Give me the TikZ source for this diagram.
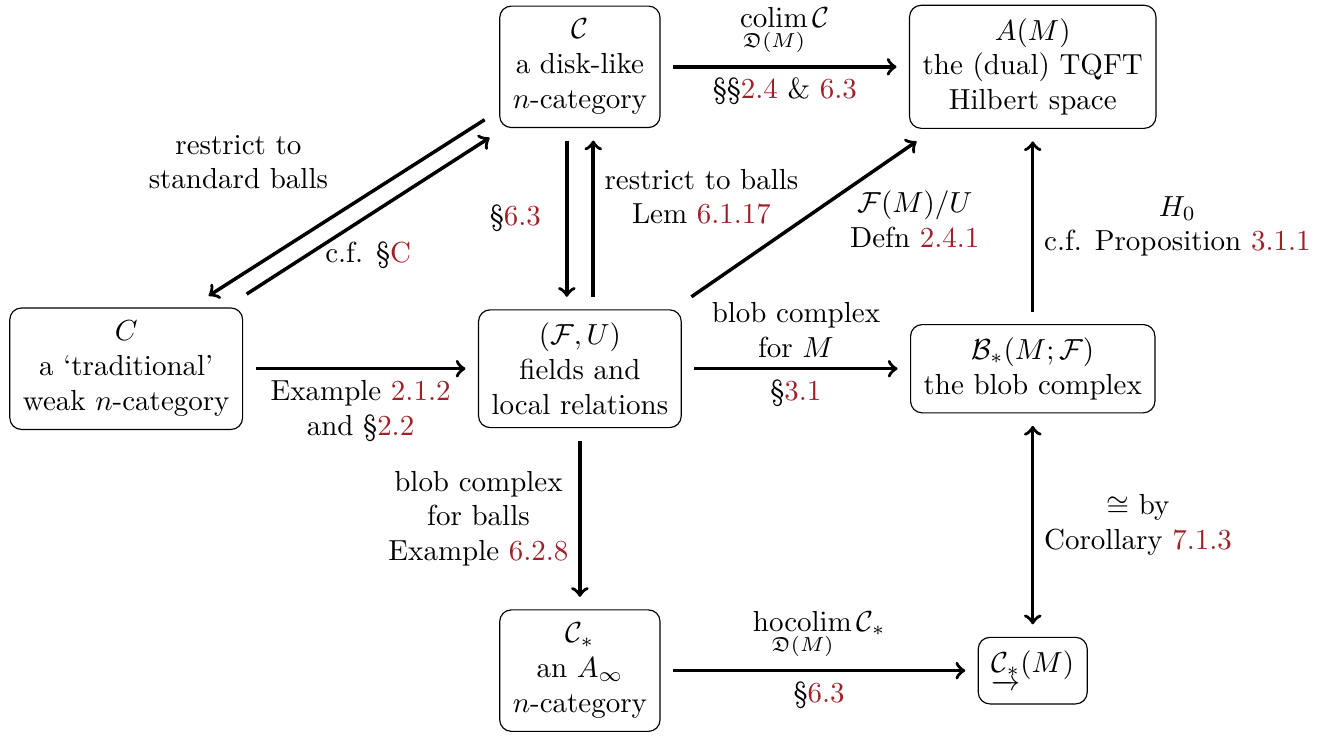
\documentclass[tikz,border=0pt]{standalone}
\usepackage{amsmath,amssymb}
\definecolor{refred}{RGB}{160,32,40}
\newcommand{\rf}[1]{\textcolor{refred}{#1}}
\tikzset{
  obj/.style={draw,rounded corners,align=center,inner sep=4.5pt,outer sep=4.5pt},
  arr/.style={->,very thick},
  lbl/.style={align=center},
}
\begin{document}
\begin{tikzpicture}
\useasboundingbox (0,0) rectangle (16.16,-8.92);
% objects
\node[obj] (cat) at (7.03,-0.81) {$\mathcal{C}$\\a disk-like\\$n$-category};
\node[obj] (am) at (12.52,-0.81) {$A(M)$\\the (dual) TQFT\\Hilbert space};
\node[obj] (trad) at (1.53,-4.47) {$C$\\a `traditional'\\weak $n$-category};
\node[obj] (fu) at (7.03,-4.47) {$(\mathcal{F},U)$\\fields and\\local relations};
\node[obj] (blob) at (12.52,-4.47) {$\mathcal{B}_*(M;\mathcal{F})$\\the blob complex};
\node[obj] (cstar) at (7.03,-8.13) {$\mathcal{C}_*$\\an $A_\infty$\\$n$-category};
\node[obj] (hoc) at (12.52,-8.13) {$\underrightarrow{\mathcal{C}_*}(M)$};
% helper points for the parallel arrows
\coordinate (dn) at ([xshift=-4.5pt]cat.south);
\coordinate (up) at ([xshift=4.6pt]cat.south);
% arrows
\draw[arr] (cat) -- node[lbl,above] (colimlbl) {$\displaystyle\operatorname*{colim}_{\mathfrak{D}(M)}\mathcal{C}$}
  node[lbl,below] (colimref) {\S\S\rf{2.4} \& \rf{6.3}} (am);
\draw[arr] ([xshift=-0.7pt,yshift=7.2pt]cat.south west) -- node[lbl,above left,xshift=-2.5pt,yshift=2.5pt] (restrlbl) {restrict to\\standard balls}
  ([xshift=-16.2pt,yshift=-0.3pt]trad.north east);
\draw[arr] ([xshift=-3.1pt,yshift=0.3pt]trad.north east) -- node[lbl,below,yshift=-5pt] (cflbl) {c.f. \S\rf{C}}
  ([xshift=1pt,yshift=1pt]cat.south west);
\draw[arr] (dn) -- node[lbl,left=5pt] (catfulbl) {\S\rf{6.3}} (dn |- fu.north);
\draw[arr] (up |- fu.north) -- node[lbl,right,pos=0.64] (balllbl) {restrict to balls\\Lem \rf{6.1.17}} (up);
\draw[arr] ([xshift=-1pt]fu.north east) -- node[lbl,right=12pt] (quotlbl) {$\mathcal{F}(M)/U$\\Defn \rf{2.4.1}}
  ([xshift=6.9pt]am.south west);
\draw[arr] (trad) -- node[lbl,below] (exlbl) {Example \rf{2.1.2}\\and \S\rf{2.2}} (fu);
\draw[arr] (fu) -- node[lbl,above] (bclbl) {blob complex\\for $M$} node[lbl,below] (bcref) {\S\rf{3.1}} (blob);
\draw[arr] (blob) -- node[lbl,right] (h0lbl) {$H_0$\\c.f. Proposition \rf{3.1.1}} (am);
\draw[arr] (fu) -- node[lbl,left] (bballlbl) {blob complex\\for balls\\Example \rf{6.2.8}} (cstar);
\draw[arr] (cstar) -- node[lbl,above] (hocolbl) {$\displaystyle\operatorname*{hocolim}_{\mathfrak{D}(M)}\mathcal{C}_*$}
  node[lbl,below] (hocoref) {\S\rf{6.3}} (hoc);
\draw[arr,<->] (blob) -- node[lbl,right] (corlbl) {$\cong$ by\\Corollary \rf{7.1.3}} (hoc);
\end{tikzpicture}
\end{document}
